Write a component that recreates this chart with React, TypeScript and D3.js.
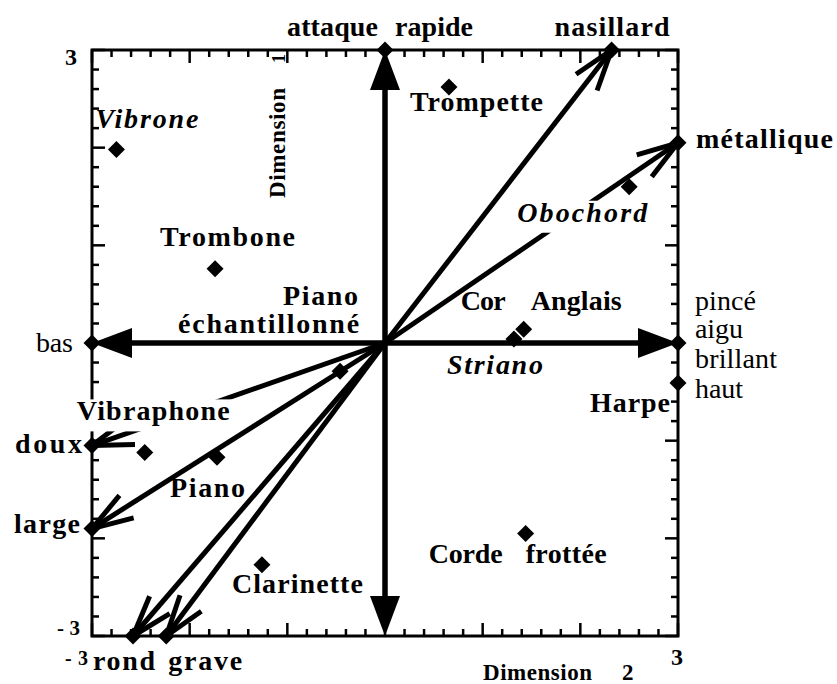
import React from "react";
import * as d3 from "d3";

// ---------- DATA ----------
const instrumentNames = ["Vibrone", "Trompette", "Obochord", "Trombone", "Cor Anglais", "Striano", "Piano échantillonné", "Harpe", "Vibraphone", "Piano", "Clarinette", "Corde frottée"];
const instrumentDim2 = [-2.75, 0.655, 2.5, -1.74, 1.42, 1.32, -0.46, 3.0, -2.46, -1.72, -1.26, 1.44];
const instrumentDim1 = [1.98, 2.62, 1.6, 0.76, 0.14, 0.04, -0.29, -0.41, -1.12, -1.17, -2.27, -1.95];

const descriptorNames = ["nasillard", "métallique", "doux", "large", "rond", "grave"];
const descriptorDim2 = [2.32, 3, -3, -3, -2.58, -2.24];
const descriptorDim1 = [3, 2.05, -1.05, -1.9, -3, -3];

const axisNames = ["attaque rapide", "", "bas", "pincé aigu brillant haut"];
const axisDim2 = [0, 0, -3, 3];
const axisDim1 = [3, -3, 0, 0];

const domainMin = -3;
const domainMax = 3;
const tickStep = 0.2;
const axisTickLabels = ["-3", "3"];
const xTitle = ["Dimension", "2"];
const yTitle = ["Dimension", "1"];

// ---------- LAYOUT (label placement, px offsets from the anchor point) ----------
type Part = { t: string; dx: number; dy: number; w: number };
type LabelStyle = { weight: string; italic?: boolean; size: number; bg?: boolean };

const B = 28;
const R = 28;
const labelLayout: Record<string, { parts: Part[]; style: LabelStyle }> = {
  "Vibrone": { parts: [{ t: "Vibrone", dx: -21, dy: -22, w: 103 }], style: { weight: "bold", italic: true, size: B } },
  "Trompette": { parts: [{ t: "Trompette", dx: -39, dy: 24, w: 133 }], style: { weight: "bold", size: B } },
  "Obochord": { parts: [{ t: "Obochord", dx: -112, dy: 35, w: 130 }], style: { weight: "bold", italic: true, size: B, bg: true } },
  "Trombone": { parts: [{ t: "Trombone", dx: -55, dy: -23, w: 135 }], style: { weight: "bold", size: B } },
  "Cor Anglais": { parts: [{ t: "Cor", dx: -63, dy: -19, w: 45 }, { t: "Anglais", dx: 7, dy: -19, w: 91 }], style: { weight: "bold", size: B } },
  "Striano": { parts: [{ t: "Striano", dx: -67, dy: 35, w: 96 }], style: { weight: "bold", italic: true, size: B } },
  "Piano échantillonné": { parts: [{ t: "Piano", dx: -57, dy: -66, w: 75 }, { t: "échantillonné", dx: -162, dy: -38, w: 181 }], style: { weight: "bold", size: B } },
  "Harpe": { parts: [{ t: "Harpe", dx: -88, dy: 29, w: 80 }], style: { weight: "bold", size: B } },
  "Vibraphone": { parts: [{ t: "Vibraphone", dx: -68, dy: -32, w: 153 }], style: { weight: "bold", size: B, bg: true } },
  "Piano": { parts: [{ t: "Piano", dx: -47, dy: 40, w: 75 }], style: { weight: "bold", size: B } },
  "Clarinette": { parts: [{ t: "Clarinette", dx: -30, dy: 28, w: 131 }], style: { weight: "bold", size: B } },
  "Corde frottée": { parts: [{ t: "Corde", dx: -97, dy: 30, w: 74 }, { t: "frottée", dx: 0, dy: 30, w: 81 }], style: { weight: "bold", size: B } },
  "nasillard": { parts: [{ t: "nasillard", dx: -57, dy: -14, w: 115 }], style: { weight: "bold", size: B } },
  "métallique": { parts: [{ t: "métallique", dx: 18, dy: 5, w: 137 }], style: { weight: "bold", size: B } },
  "doux": { parts: [{ t: "doux", dx: -77, dy: 7, w: 67 }], style: { weight: "bold", size: B } },
  "large": { parts: [{ t: "large", dx: -78, dy: 4, w: 66 }], style: { weight: "bold", size: B } },
  "rond": { parts: [{ t: "rond", dx: -40, dy: 34, w: 62 }], style: { weight: "bold", size: B } },
  "grave": { parts: [{ t: "grave", dx: 2, dy: 34, w: 74 }], style: { weight: "bold", size: B } },
  "attaque rapide": { parts: [{ t: "attaque", dx: -98, dy: -14, w: 91 }, { t: "rapide", dx: 10, dy: -14, w: 78 }], style: { weight: "bold", size: B } },
  "bas": { parts: [{ t: "bas", dx: -56, dy: 9, w: 37 }], style: { weight: "normal", size: R } },
  "pincé aigu brillant haut": {
    parts: [
      { t: "pincé", dx: 17, dy: -33, w: 61 },
      { t: "aigu", dx: 17, dy: -5, w: 48 },
      { t: "brillant", dx: 17, dy: 25, w: 82 },
      { t: "haut", dx: 17, dy: 55, w: 48 },
    ],
    style: { weight: "normal", size: R },
  },
};

const FONT = "Liberation Serif";
const W = 837;
const H = 684;

const x = d3.scaleLinear().domain([domainMin, domainMax]).range([92, 678]);
const y = d3.scaleLinear().domain([domainMin, domainMax]).range([636, 50]);

const cx = x(0);
const cy = y(0);

function diamond(px: number, py: number, r: number) {
  return `M${px},${py - r}L${px + r},${py}L${px},${py + r}L${px - r},${py}Z`;
}

function Label({ name, px, py }: { name: string; px: number; py: number }) {
  const lay = labelLayout[name];
  if (!lay) return null;
  const s = lay.style;
  return (
    <g>
      {lay.parts.map((p, i) => (
        <g key={i}>
          {s.bg && (
            <rect x={px + p.dx - 2} y={py + p.dy - 21} width={p.w + 4} height={32} fill="#fff" />
          )}
          <text
            x={px + p.dx}
            y={py + p.dy}
            fontFamily={FONT}
            fontSize={s.size}
            fontWeight={s.weight}
            fontStyle={s.italic ? "italic" : "normal"}
            textLength={p.w}
            lengthAdjust="spacing"
            fill="#000"
          >
            {p.t}
          </text>
        </g>
      ))}
    </g>
  );
}

export default function App() {
  const ticks = d3.range(Math.round(domainMin / tickStep), Math.round(domainMax / tickStep) + 1).map((i) => i * tickStep);
  const isMajor = (v: number) => Math.abs(v - Math.round(v)) < 1e-6;
  const majorLen = 13;
  const minorLen = 7;
  const x0 = x(domainMin), x1 = x(domainMax), y0 = y(domainMin), y1 = y(domainMax);

  const barbLen = 43;
  const barbAng = (18 * Math.PI) / 180;

  const descriptors = descriptorNames.map((n, i) => ({ n, px: x(descriptorDim2[i]), py: y(descriptorDim1[i]) }));
  const axes = axisNames.map((n, i) => ({ n, px: x(axisDim2[i]), py: y(axisDim1[i]) }));
  const instruments = instrumentNames.map((n, i) => ({ n, px: x(instrumentDim2[i]), py: y(instrumentDim1[i]) }));

  const bgLabels = (list: { n: string }[]) => list.filter((d) => labelLayout[d.n]?.style.bg);
  const fgLabels = (list: { n: string }[]) => list.filter((d) => !labelLayout[d.n]?.style.bg);

  return (
    <svg width={W} height={H} style={{ display: "block", position: "absolute", left: 0, top: 0, background: "#fff" }}>
      <rect x={0} y={0} width={W} height={H} fill="#fff" />
      {/* frame */}
      <rect x={x0} y={y1} width={x1 - x0} height={y0 - y1} fill="none" stroke="#000" strokeWidth={3} />
      {/* ticks */}
      <g stroke="#000" strokeWidth={2.5}>
        {ticks.map((v, i) => {
          const L = isMajor(v) ? majorLen : minorLen;
          return (
            <g key={i}>
              <line x1={x(v)} x2={x(v)} y1={y1} y2={y1 + L} />
              <line x1={x(v)} x2={x(v)} y1={y0} y2={y0 - L} />
              <line x1={x0} x2={x0 + L} y1={y(v)} y2={y(v)} />
              <line x1={x1} x2={x1 - L} y1={y(v)} y2={y(v)} />
            </g>
          );
        })}
      </g>

      {/* axis arrows with filled heads */}
      {axes.map((a, i) => {
        const dx = a.px - cx, dy = a.py - cy;
        const len = Math.hypot(dx, dy);
        const ux = dx / len, uy = dy / len;
        const hl = 40, hw = 15;
        const bx = a.px - ux * hl, by = a.py - uy * hl;
        const tri = `M${a.px},${a.py}L${bx - uy * hw},${by + ux * hw}L${bx + uy * hw},${by - ux * hw}Z`;
        return (
          <g key={"ax" + i}>
            <line x1={cx} y1={cy} x2={bx} y2={by} stroke="#000" strokeWidth={5.5} />
            <path d={tri} fill="#000" />
          </g>
        );
      })}

      {/* descriptor arrows with open heads */}
      {descriptors.map((a, i) => {
        const dx = cx - a.px, dy = cy - a.py;
        const ang = Math.atan2(dy, dx);
        const b1 = [a.px + barbLen * Math.cos(ang + barbAng), a.py + barbLen * Math.sin(ang + barbAng)];
        const b2 = [a.px + barbLen * Math.cos(ang - barbAng), a.py + barbLen * Math.sin(ang - barbAng)];
        return (
          <g key={"ds" + i} stroke="#000" strokeWidth={5}>
            <line x1={cx} y1={cy} x2={a.px} y2={a.py} />
            <line x1={a.px} y1={a.py} x2={b1[0]} y2={b1[1]} />
            <line x1={a.px} y1={a.py} x2={b2[0]} y2={b2[1]} />
          </g>
        );
      })}

      {/* diamonds */}
      {[...descriptors, ...axes.filter((a) => a.n !== ""), ...instruments].map((d, i) => (
        <path key={"dm" + i} d={diamond(d.px, d.py, 8.5)} fill="#000" />
      ))}

      {/* labels with white background (occlude lines) */}
      {bgLabels([...instruments, ...descriptors]).map((d: any, i) => (
        <Label key={"bl" + i} name={d.n} px={d.px} py={d.py} />
      ))}
      {fgLabels([...instruments, ...descriptors, ...axes.filter((a) => a.n !== "")]).map((d: any, i) => (
        <Label key={"fl" + i} name={d.n} px={d.px} py={d.py} />
      ))}

      {/* axis tick labels */}
      <g fontFamily={FONT} fontWeight="bold" fill="#000">
        <text x={x(domainMin) - 27} y={y(domainMax) + 15} fontSize={24}>{axisTickLabels[1]}</text>
        <text x={x(domainMin) - 35} y={y(domainMin) - 1} fontSize={21} textLength={23} lengthAdjust="spacing">{axisTickLabels[0]}</text>
        <text x={x(domainMin) - 27} y={y(domainMin) + 29} fontSize={20} textLength={23} lengthAdjust="spacing">{axisTickLabels[0]}</text>
        <text x={x(domainMax) - 7} y={y(domainMin) + 29} fontSize={24}>{axisTickLabels[1]}</text>
        {/* x axis title */}
        <text x={x(domainMax) - 195} y={y(domainMin) + 44} fontSize={23} textLength={109} lengthAdjust="spacing">{xTitle[0]}</text>
        <text x={x(domainMax) - 56} y={y(domainMin) + 44} fontSize={23}>{xTitle[1]}</text>
        {/* y axis title, vertical */}
        <text transform={`translate(${x(-1) - 2},${y(domainMax) + 148}) rotate(-90)`} fontSize={23} textLength={110} lengthAdjust="spacing">{yTitle[0]}</text>
        <text transform={`translate(${x(-1) - 2},${y(domainMax) + 13}) rotate(-90)`} fontSize={18}>{yTitle[1]}</text>
      </g>
    </svg>
  );
}
